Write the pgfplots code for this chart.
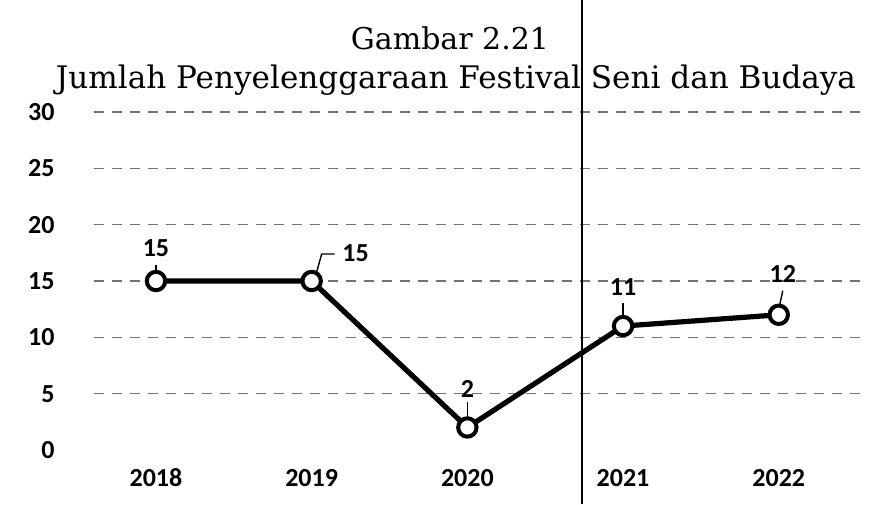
\documentclass[border=0pt]{standalone}
\usepackage{fontspec}
\setmainfont{DejaVu Serif}
\newfontfamily\carlito{Carlito}
\usepackage{pgfplots}
\pgfplotsset{compat=1.18}
\begin{document}
\begin{tikzpicture}
\path[use as bounding box] (0,0) rectangle (438.5pt,252pt);
\begin{axis}[
  at={(46.85pt,27pt)}, anchor=south west,
  scale only axis, width=383pt, height=169pt,
  xmin=-0.4, xmax=4.52, ymin=0, ymax=30,
  axis line style={draw=none},
  major tick length=0pt,
  xtick={0,1,2,3,4},
  xticklabels={2018,2019,2020,2021,2022},
  ytick={0,5,...,30},
  extra y ticks={5,10,...,30},
  extra y tick labels={},
  extra y tick style={grid=major},
  grid style={black!55, line width=0.6pt, dash pattern=on 5pt off 4pt},
  /pgf/number format/assume math mode=true,
  ticklabel style={font=\carlito\bfseries\fontsize{13}{15}\selectfont},
  xticklabel style={anchor=center, inner sep=0pt, yshift=-14pt},
  yticklabel style={anchor=east, inner sep=0pt, xshift=-19.4pt},
  clip=false,
]
\addplot[black, line width=2.6pt, mark=*, mark size=4.6pt,
  mark options={fill=white, draw=black, line width=2pt}]
  coordinates {(0,15) (1,15) (2,2) (3,11) (4,12)};
% data labels and leaders
\begin{scope}[every node/.style={font=\carlito\bfseries\fontsize{13}{15}\selectfont, inner sep=0pt}]
\node at (axis cs:0,15) [yshift=16.5pt] {15};
\draw[black, line width=0.7pt] ([shift={(0pt,5pt)}]axis cs:0,15) -- ([shift={(0pt,8pt)}]axis cs:0,15);
\node at (axis cs:1,15) [xshift=22pt, yshift=14pt] {15};
\draw[black, line width=0.7pt] ([shift={(2.5pt,4.5pt)}]axis cs:1,15) -- ([shift={(5pt,13.5pt)}]axis cs:1,15) -- ([shift={(11.5pt,13.5pt)}]axis cs:1,15);
\node at (axis cs:2,2) [yshift=19pt] {2};
\draw[black, line width=0.7pt] ([shift={(0pt,5pt)}]axis cs:2,2) -- ([shift={(0pt,12.5pt)}]axis cs:2,2);
\node at (axis cs:3,11) [yshift=19.5pt] {11};
\draw[black, line width=0.7pt] ([shift={(0pt,5pt)}]axis cs:3,11) -- ([shift={(0pt,11.5pt)}]axis cs:3,11);
\node at (axis cs:4,12) [xshift=2pt, yshift=20.5pt] {12};
\draw[black, line width=0.7pt] ([shift={(0.5pt,5pt)}]axis cs:4,12) -- ([shift={(2pt,12pt)}]axis cs:4,12);
\end{scope}
\end{axis}
\node at (225pt,233pt) {\fontsize{15}{17}\selectfont Gambar 2.21};
\node at (228pt,212pt) {\resizebox{400pt}{!}{\fontsize{15}{17}\selectfont Jumlah Penyelenggaraan Festival Seni dan Budaya}};
\draw[black, line width=0.75pt] (291pt,0) -- (291pt,252pt);
\end{tikzpicture}
\end{document}
